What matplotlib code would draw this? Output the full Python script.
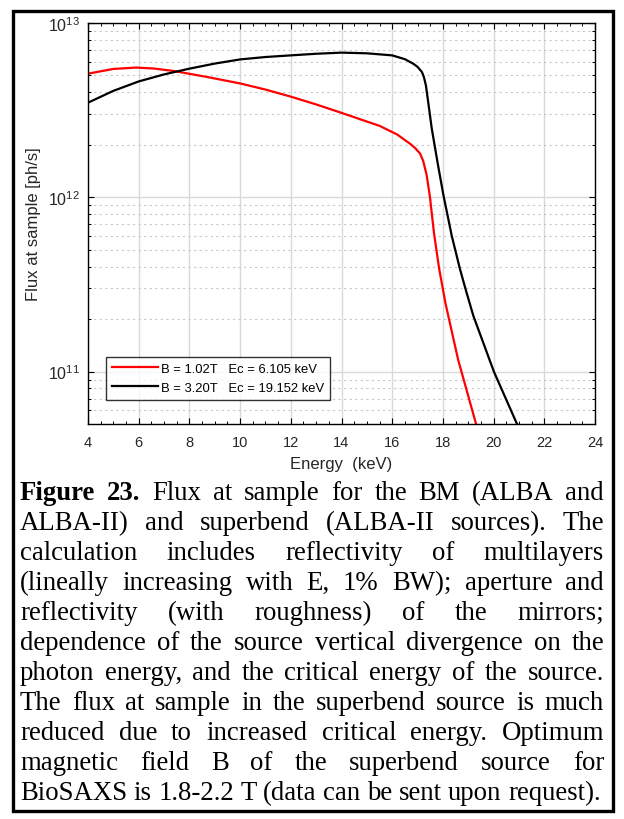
import numpy as np
import matplotlib
matplotlib.use("Agg")
import matplotlib.pyplot as plt
from matplotlib.patches import Rectangle
from matplotlib.ticker import LogLocator, MultipleLocator, NullFormatter

plt.rcParams["font.family"] = ["Liberation Sans", "DejaVu Sans"]
plt.rcParams["mathtext.fontset"] = "custom"
plt.rcParams["mathtext.rm"] = "Liberation Sans"

# Data (energy in keV, flux in ph/s)
e_bm = [4.0, 5.0, 5.9, 6.6, 7.4, 8.7, 10.0, 11.0, 12.0, 13.0, 14.0, 15.0, 15.5, 16.2,
        16.7, 16.9, 17.1, 17.22, 17.36, 17.49, 17.65, 17.85, 18.1, 18.6, 19.3, 19.45]
flux_bm = [5.12e12, 5.45e12, 5.55e12, 5.48e12, 5.3e12, 4.9e12, 4.5e12, 4.15e12, 3.78e12,
           3.41e12, 3.05e12, 2.72e12, 2.57e12, 2.29e12, 2.03e12, 1.92e12, 1.78e12, 1.62e12,
           1.34e12, 1.0e12, 6.2e11, 3.91e11, 2.47e11, 1.17e11, 5.05e10, 4.3e10]

e_sb = [4.0, 5.0, 6.0, 7.0, 8.0, 9.0, 10.0, 11.0, 12.0, 13.0, 14.0, 15.0, 16.0, 16.5,
        16.84, 17.0, 17.17, 17.25, 17.33, 17.42, 17.56, 17.8, 18.02, 18.35, 18.67, 18.9,
        19.2, 20.01, 20.91, 21.1]
flux_sb = [3.49e12, 4.08e12, 4.62e12, 5.07e12, 5.47e12, 5.85e12, 6.18e12, 6.38e12, 6.52e12,
           6.66e12, 6.76e12, 6.7e12, 6.52e12, 6.2e12, 5.83e12, 5.6e12, 5.24e12, 4.9e12,
           4.38e12, 3.52e12, 2.48e12, 1.55e12, 1.03e12, 6.0e11, 3.89e11, 2.95e11, 2.09e11,
           1.0e11, 5.05e10, 4.6e10]

labels = ["B = 1.02T   Ec = 6.105 keV", "B = 3.20T   Ec = 19.152 keV"]

caption_lines = [
    "Figure 23. Flux at sample for the BM (ALBA and",
    "ALBA-II) and superbend (ALBA-II sources). The",
    "calculation includes reflectivity of multilayers",
    "(lineally increasing with E, 1% BW); aperture and",
    "reflectivity (with roughness) of the mirrors;",
    "dependence of the source vertical divergence on the",
    "photon energy, and the critical energy of the source.",
    "The flux at sample in the superbend source is much",
    "reduced due to increased critical energy. Optimum",
    "magnetic field B of the superbend source for",
    "BioSAXS is 1.8-2.2 T (data can be sent upon request).",
]

W, H = 624, 820
fig = plt.figure(figsize=(W / 100, H / 100), dpi=100)

# outer frame
fig.patches.append(Rectangle((13 / W, 1 - 812 / H), 600 / W, 800 / H, transform=fig.transFigure,
                             fill=False, edgecolor="black", linewidth=2.4))

ax = fig.add_axes([88 / W, 1 - 425 / H, 507 / W, 401 / H])
ax.plot(e_bm, flux_bm, color="#ff0000", linewidth=1.6, label=labels[0])
ax.plot(e_sb, flux_sb, color="black", linewidth=1.6, label=labels[1])

ax.set_yscale("log")
ax.set_xlim(4, 24)
ax.set_ylim(5e10, 1e13)
ax.xaxis.set_major_locator(MultipleLocator(2))
ax.xaxis.set_minor_locator(MultipleLocator(0.5))
ax.yaxis.set_major_locator(LogLocator(base=10, numticks=10))
ax.yaxis.set_minor_locator(LogLocator(base=10, subs=np.arange(2, 10), numticks=20))
ax.yaxis.set_minor_formatter(NullFormatter())

ax.grid(which="major", color="#d9d9d9", linewidth=1.0, linestyle="-")
ax.grid(which="minor", axis="y", color="#c8c8c8", linewidth=0.8, linestyle=(0, (2, 3)))
ax.set_axisbelow(True)

ax.tick_params(which="both", direction="in", top=True, right=True, labelsize=10.5, colors="black")
ax.tick_params(which="major", length=4, width=0.8)
ax.tick_params(which="minor", length=2.5, width=0.7)
ax.tick_params(axis="x", pad=8, labelcolor="#262626")
ax.tick_params(axis="y", pad=6, labelcolor="#262626", labelsize=11.5)
for s in ax.spines.values():
    s.set_linewidth(1.0)

ax.set_xlabel("Energy  (keV)", fontsize=12, color="#262626", labelpad=5)
ax.set_ylabel("Flux at sample [ph/s]", fontsize=12, color="#262626", labelpad=5)

leg = ax.legend(loc="upper left", bbox_to_anchor=(0.0355, 0.167), borderaxespad=0,
                fontsize=9.4, frameon=True, fancybox=False, edgecolor="black",
                handlelength=3.5, handletextpad=0.3, labelspacing=0.5, borderpad=0.45)
leg.get_frame().set_linewidth(1.0)

# justified caption, placed word by word
x0, x1 = 20, 604
base_first = 500
dy = 30
cap_size = 19.3
fig.canvas.draw()
r = fig.canvas.get_renderer()
for i, line in enumerate(caption_lines):
    y = 1 - (base_first + i * dy) / H
    words = line.split()
    txts = []
    for j, w in enumerate(words):
        bold = (i == 0 and j < 2)
        txts.append(fig.text(0, y, w, fontsize=cap_size, family="Liberation Serif",
                             weight="bold" if bold else "normal", va="baseline"))
    widths = [t.get_window_extent(r).width for t in txts]
    gap = (x1 - x0 - sum(widths)) / (len(words) - 1)
    if i == len(caption_lines) - 1:
        gap = min(gap, 6.5)
    x = x0
    for t, w in zip(txts, widths):
        t.set_x(x / W)
        x += w + gap

fig.savefig("out.png", dpi=100)
